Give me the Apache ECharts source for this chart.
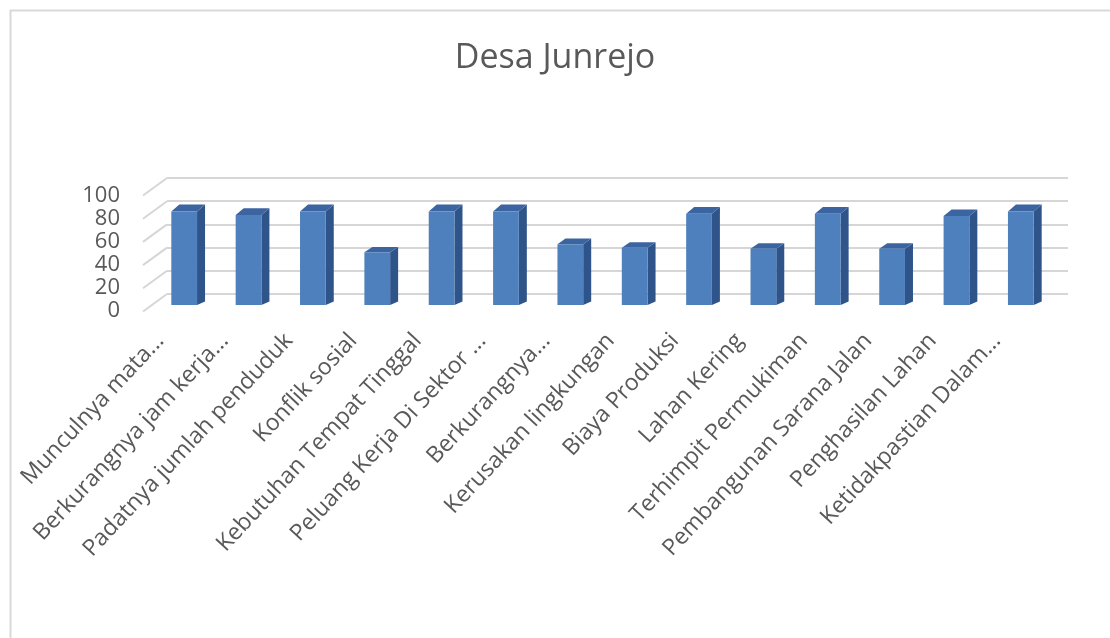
<!DOCTYPE html>
<html><head><meta charset="utf-8">
<script src="https://cdn.jsdelivr.net/npm/echarts@6/dist/echarts.min.js"></script>
<style>html,body{margin:0;padding:0;background:#fff}#c{width:1110px;height:638px}</style>
</head><body><div id="c"></div>
<script>
const chartTitle = 'Desa Junrejo';
const categories = [
  'Munculnya mata...', 'Berkurangnya jam kerja...', 'Padatnya jumlah penduduk', 'Konflik sosial',
  'Kebutuhan Tempat Tinggal', 'Peluang Kerja Di Sektor ...', 'Berkurangnya...', 'Kerusakan lingkungan',
  'Biaya Produksi', 'Lahan Kering', 'Terhimpit Permukiman', 'Pembangunan Sarana Jalan',
  'Penghasilan Lahan', 'Ketidakpastian Dalam...'
];
const values = [80, 77, 80, 45, 80, 80, 52, 49, 78, 48, 78, 48, 76, 80];
const yTicks = [0, 20, 40, 60, 80, 100];

const FRONT = '#4e80bd', SIDE = '#2f5489', TOP = '#3b64a0';
const FONT = 'Open Sans';
const GRAY = '#595959';

function renderBar(params, api) {
  const i = api.value(0), v = api.value(1);
  const base = api.coord([i, 0]);
  const top = api.coord([i, v]);
  const bw = api.size([1, 0])[0] * 0.4;
  const x0 = base[0] - bw / 2, x1 = base[0] + bw / 2;
  const h = base[1] - top[1];
  const dx = 8, dyB = 3.5, dyT = 3.5 + 3.3 * h / 93;
  return {
    type: 'group', children: [
      { type: 'polygon', shape: { points: [[x1, top[1]], [x1 + dx, top[1] - dyT], [x1 + dx, base[1] - dyB], [x1, base[1]]] }, style: { fill: SIDE } },
      { type: 'polygon', shape: { points: [[x0, top[1]], [x0 + dx, top[1] - dyT], [x1 + dx, top[1] - dyT], [x1, top[1]]] }, style: { fill: TOP } },
      { type: 'rect', shape: { x: x0, y: top[1], width: bw, height: h }, style: { fill: FRONT } }
    ]
  };
}

function renderWall(params, api) {
  const p = api.coord([0, api.value(1)]);
  return { type: 'line', shape: { x1: p[0], y1: p[1], x2: p[0] - 24, y2: p[1] + 17.5 }, style: { stroke: '#d6d6d6', lineWidth: 2 } };
}

const chart = echarts.init(document.getElementById('c'));
chart.setOption({
  animation: false,
  backgroundColor: '#fff',
  textStyle: { fontFamily: FONT },
  title: { text: chartTitle, left: 'center', top: 36, textStyle: { fontFamily: FONT, fontSize: 34, fontWeight: 'normal', color: GRAY } },
  graphic: [{ type: 'rect', left: 8, top: 8, shape: { width: 1200, height: 700 }, style: { fill: 'none', stroke: '#d9d9d9', lineWidth: 2 }, silent: true }],
  grid: [
    { left: 152, right: 57, top: 188, height: 117 },   // bars plane
    { left: 167, right: 42, top: 178, height: 116 },   // back wall
    { left: 143, right: 66, top: 196, height: 115 },   // front y labels
    { left: 128, right: 81, top: 188, height: 117 }    // category labels
  ],
  xAxis: [
    { gridIndex: 0, type: 'category', data: categories, show: false },
    { gridIndex: 1, type: 'value', min: 0, max: 1, show: false },
    { gridIndex: 2, type: 'value', min: 0, max: 1, show: false },
    { gridIndex: 3, type: 'category', data: categories, axisLine: { show: false }, axisTick: { show: false },
      axisLabel: { interval: 0, rotate: 47, margin: 32, color: GRAY, fontFamily: FONT, fontSize: 23 } }
  ],
  yAxis: [
    { gridIndex: 0, type: 'value', min: 0, max: 100, interval: 20, show: false },
    { gridIndex: 1, type: 'value', min: 0, max: 100, interval: 20, axisLine: { show: false }, axisTick: { show: false }, axisLabel: { show: false },
      splitLine: { lineStyle: { color: '#d6d6d6', width: 2 } } },
    { gridIndex: 2, type: 'value', min: 0, max: 100, interval: 20, axisLine: { show: false }, axisTick: { show: false }, splitLine: { show: false },
      axisLabel: { color: GRAY, fontFamily: FONT, fontSize: 22, margin: 23, formatter: v => yTicks.includes(v) ? String(v) : '' } },
    { gridIndex: 3, type: 'value', min: 0, max: 100, show: false }
  ],
  series: [
    { type: 'custom', xAxisIndex: 1, yAxisIndex: 1, renderItem: renderWall, data: yTicks.map(v => [0, v]), silent: true, z: 1 },
    { type: 'custom', xAxisIndex: 0, yAxisIndex: 0, renderItem: renderBar, data: values.map((v, i) => [i, v]), encode: { x: 0, y: 1 }, z: 5 }
  ]
});
</script></body></html>
